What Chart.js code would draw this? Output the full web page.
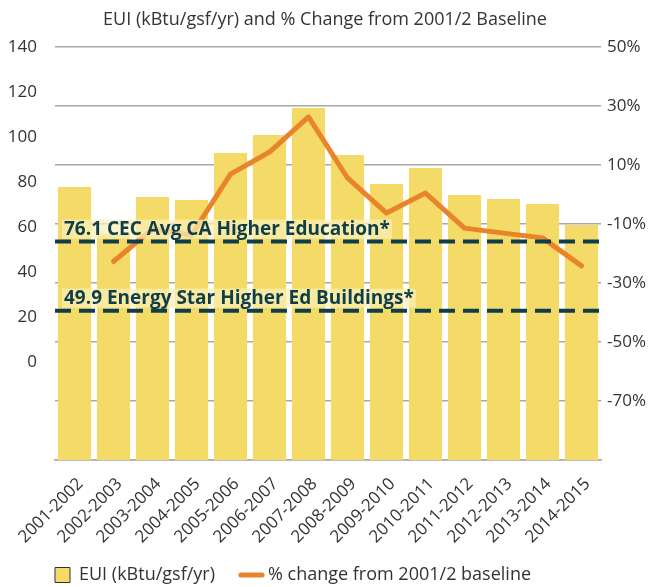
<!DOCTYPE html>
<html>
<head>
<meta charset="utf-8">
<script src="https://cdn.jsdelivr.net/npm/chart.js@4/dist/chart.umd.min.js"></script>
<style>
    html, body { margin: 0; padding: 0; background: #fff; }
    #wrap { width: 650px; height: 587px; }
</style>
</head>
<body>
<div id="wrap"><canvas id="euiChart"></canvas></div>
<script>
/* ===== ข้อมูล ===== */
const years = [
    "2001-2002","2002-2003","2003-2004","2004-2005","2005-2006","2006-2007","2007-2008",
    "2008-2009","2009-2010","2010-2011","2011-2012","2012-2013","2013-2014","2014-2015"
];
const euiValues = [77.8, 57, 73.3, 72.0, 92.9, 100.9, 112.9, 92.0, 79.1, 86.2, 74.2, 72.4, 70.2, 60.9];
const pctChange = [null, -22.7, -11.7, -13.8, 6.9, 14.4, 26.3, 5.6, -6.3, 0.5, -11.4, -13.1, -14.7, -24.2];
const leftTicks = [0, 20, 40, 60, 80, 100, 120, 140];
const rightTicks = [-90, -70, -50, -30, -10, 10, 30, 50];
const refLevels = [53.5, 22.8];
const refLabels = ["76.1 CEC Avg CA Higher Education*", "49.9 Energy Star Higher Ed Buildings*"];

const BAR_COLOR = "#F4DB68";
const LINE_COLOR = "#E8852B";
const REF_COLOR = "#0F3E4A";
const TEXT_COLOR = "#333333";
const FONT = "'Open Sans'";

/* ===== เส้นอ้างอิงแบบเส้นประ ===== */
const refLinePlugin = {
    id: "refLines",
    afterDatasetsDraw(chart){
        const {ctx, chartArea, scales} = chart;
        ctx.save();
        refLevels.forEach((level, i) => {
            const y = scales.y.getPixelForValue(level);

            ctx.font = "bold 19px " + FONT;
            const w = ctx.measureText(refLabels[i]).width;
            ctx.fillStyle = "rgba(251, 240, 184, 0.72)";
            ctx.fillRect(chartArea.left + 7, y - 22, w + 4, 19);

            ctx.fillStyle = REF_COLOR;
            ctx.textBaseline = "middle";
            ctx.fillText(refLabels[i], chartArea.left + 9, y - 12);

            ctx.beginPath();
            ctx.setLineDash([16, 8]);
            ctx.lineWidth = 4;
            ctx.strokeStyle = REF_COLOR;
            ctx.moveTo(chartArea.left, y);
            ctx.lineTo(chartArea.right, y);
            ctx.stroke();
        });
        ctx.restore();
    }
};

/* ===== ขยับ legend ให้เริ่มตรงขอบกราฟ ===== */
const legendShiftPlugin = {
    id: "legendShift",
    beforeDraw(chart){
        if(chart.legend){
            chart.legend.left = chart.chartArea.left - chart.options.plugins.legend.labels.padding;
            chart.legend.top = chart.height - 50;
        }
    }
};

/* ===== สร้างกราฟ ===== */
const ctx = document.getElementById("euiChart");

new Chart(ctx, {
    data: {
        labels: years,
        datasets: [
            {
                type: "line",
                label: "% change from 2001/2 baseline",
                data: pctChange,
                yAxisID: "y1",
                borderColor: LINE_COLOR,
                borderWidth: 5,
                borderCapStyle: "round",
                borderJoinStyle: "round",
                pointRadius: 0,
                tension: 0,
                order: 1
            },
            {
                type: "bar",
                label: "EUI (kBtu/gsf/yr)",
                data: euiValues,
                yAxisID: "y",
                backgroundColor: BAR_COLOR,
                base: -43.56,
                barPercentage: 0.85,
                categoryPercentage: 1,
                order: 2
            }
        ]
    },
    options: {
        responsive: true,
        maintainAspectRatio: false,
        animation: false,
        layout: { padding: 0 },
        plugins: {
            title: {
                display: true,
                text: "EUI (kBtu/gsf/yr) and % Change from 2001/2 Baseline",
                color: TEXT_COLOR,
                font: { family: FONT, size: 18, weight: "normal" },
                padding: { top: 9, bottom: 16.4 }
            },
            legend: {
                position: "bottom",
                align: "start",
                maxHeight: 27,
                labels: {
                    usePointStyle: true,
                    boxWidth: 15,
                    boxHeight: 15,
                    padding: 29,
                    color: TEXT_COLOR,
                    font: { family: FONT, size: 18 },
                    generateLabels: () => [
                        { text: "EUI (kBtu/gsf/yr)", fillStyle: BAR_COLOR, strokeStyle: TEXT_COLOR,
                          lineWidth: 1, pointStyle: "rect", fontColor: TEXT_COLOR, datasetIndex: 1 },
                        { text: "% change from 2001/2 baseline", fillStyle: LINE_COLOR, strokeStyle: LINE_COLOR,
                          lineWidth: 5, lineCap: "round", pointStyle: "line", fontColor: TEXT_COLOR, datasetIndex: 0 }
                    ]
                }
            },
            tooltip: { enabled: false }
        },
        scales: {
            x: {
                grid: { display: false },
                border: { display: true, color: "#A8A8A8", width: 1.5 },
                ticks: {
                    autoSkip: false,
                    minRotation: 45,
                    maxRotation: 45,
                    padding: 6,
                    labelOffset: 6,
                    color: TEXT_COLOR,
                    font: { family: FONT, size: 17 }
                },
                afterFit: axis => { axis.height = 100; }
            },
            y: {
                position: "left",
                min: -43.56,
                max: 140,
                grid: { display: false },
                border: { display: false },
                ticks: {
                    padding: 10,
                    color: TEXT_COLOR,
                    font: { family: FONT, size: 17 }
                },
                afterBuildTicks: axis => { axis.ticks = leftTicks.map(v => ({ value: v })); },
                afterFit: axis => { axis.width = 55; }
            },
            y1: {
                position: "right",
                min: -90,
                max: 50,
                grid: { color: "#A8A8A8", lineWidth: 1.5, drawTicks: false },
                border: { display: false },
                ticks: {
                    padding: 6,
                    color: TEXT_COLOR,
                    font: { family: FONT, size: 17 },
                    callback: val => (val === -90 ? "" : val + "%")
                },
                afterBuildTicks: axis => { axis.ticks = rightTicks.map(v => ({ value: v })); },
                afterFit: axis => { axis.width = 49; }
            }
        }
    },
    plugins: [refLinePlugin, legendShiftPlugin]
});
</script>
</body>
</html>
